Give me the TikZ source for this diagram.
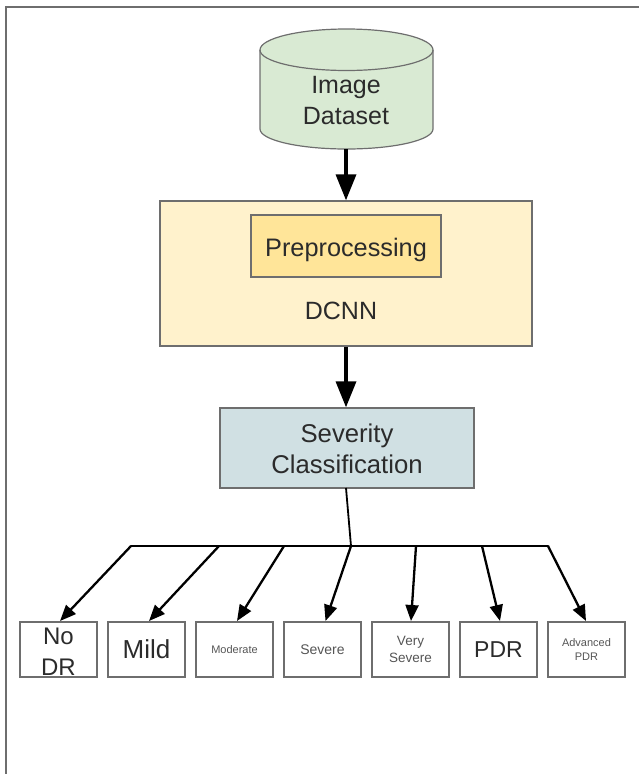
\documentclass[tikz,border=0pt]{standalone}
\usepackage{fontspec}
\setmainfont{Liberation Sans}
\usetikzlibrary{arrows.meta}
\definecolor{edgegray}{HTML}{6E6E6E}
\definecolor{inkdark}{HTML}{2B2B2B}
\definecolor{softgray}{HTML}{555555}
\definecolor{dbgreen}{HTML}{D9EAD3}
\definecolor{paleyellow}{HTML}{FFF2CC}
\definecolor{midyellow}{HTML}{FFE599}
\definecolor{paleblue}{HTML}{D0E0E3}
\tikzset{
  x=1pt,y=-1pt,
  box/.style={draw=edgegray,line width=1.3pt,minimum width=#1,text=inkdark,align=center,inner sep=0pt},
  leaf/.style={box=77pt,minimum height=55pt},
  tag/.style={text=inkdark,align=center,inner sep=0pt},
  thick arrow/.style={draw=black,line width=3.5pt,-{Triangle[length=26pt,width=20pt]}},
  thin arrow/.style={draw=black,line width=2.3pt,-{Triangle[length=16pt,width=13pt]}},
  stemline/.style={draw=black,line width=1.8pt},
  busline/.style={draw=black,line width=2.6pt,line cap=round},
  frame/.style={draw=edgegray,line width=2pt},
  drum/.style={draw=edgegray,line width=1.2pt},
}
\newcommand{\fs}[2]{\fontsize{#1}{#2}\selectfont}
\begin{document}
\begin{tikzpicture}
\useasboundingbox (0,0) rectangle (639,774);
\coordinate (frameA) at (5.5,774);
\coordinate (frameB) at (5.5,6.5);
\coordinate (frameC) at (639,6.5);
\draw[frame] (frameA) -- (frameB) -- (frameC);

\draw[drum,fill=dbgreen] (260,50) -- (260,129) arc[start angle=180,end angle=360,x radius=86.5pt,y radius=20pt]
  -- (433,50) arc[start angle=0,end angle=180,x radius=86.5pt,y radius=21pt] -- cycle;
\draw[drum] (260,50) arc[start angle=180,end angle=360,x radius=86.5pt,y radius=20.5pt];
\coordinate (dataS) at (346,149);
\node[tag,font=\fs{25}{31}] (data) at (346,101) {Image\\Dataset};

\node[box=372pt,minimum height=145pt,fill=paleyellow] (dcnn) at (346,273.5) {};
\node[box=190pt,minimum height=62pt,fill=midyellow] (pre) at (346,246) {};
\node[tag,font=\fs{25.3}{28}] (prelabel) at (346,250) {Preprocessing};
\node[tag,font=\fs{25}{28}] (dcnnlabel) at (341,311) {DCNN};

\node[box=254pt,minimum height=80pt,fill=paleblue] (sev) at (347,448) {};
\node[tag,font=\fs{25.7}{31}] (sevlabel) at (347,449) {Severity\\Classification};

\node[leaf] (l1) at (58.5,649.5) {};
\node[tag,font=\fs{24}{31}] (l1label) at (58.5,651.5) {No\\DR};
\node[leaf,font=\fs{26}{30}] (l2) at (146.5,649.5) {Mild};
\node[leaf,font=\fs{11}{14},text=softgray] (l3) at (234.5,649.5) {Moderate};
\node[leaf,font=\fs{14}{17},text=softgray] (l4) at (322.5,649.5) {Severe};
\node[leaf,font=\fs{13.5}{17},text=softgray] (l5) at (410.5,649.5) {Very\\Severe};
\node[leaf,font=\fs{23}{28}] (l6) at (498.5,649.5) {PDR};
\node[leaf,font=\fs{11}{14},text=softgray] (l7) at (586.5,649.5) {Advanced\\PDR};

\coordinate (b1) at (131,546);
\coordinate (b2) at (219,546);
\coordinate (b3) at (284,546);
\coordinate (b4) at (351,546);
\coordinate (b5) at (416,546);
\coordinate (b6) at (482,546);
\coordinate (b7) at (548,546);
\coordinate (t1) at (60,621);
\coordinate (t2) at (149,621);
\coordinate (t3) at (237,621);
\coordinate (t4) at (325.5,621);
\coordinate (t5) at (411,621);
\coordinate (t6) at (500,621);
\coordinate (t7) at (586,621);
\coordinate (s0) at (346,488);

\draw[thick arrow] (dataS) -- (dcnn.north);
\draw[thick arrow] (dcnn.south) -- (sev.north -| dcnn.south);
\draw[stemline] (s0) -- (b4);
\draw[busline] (b1) -- (b7);
\foreach \i in {1,...,7} \draw[thin arrow] (b\i) -- (t\i);
\end{tikzpicture}
\end{document}
